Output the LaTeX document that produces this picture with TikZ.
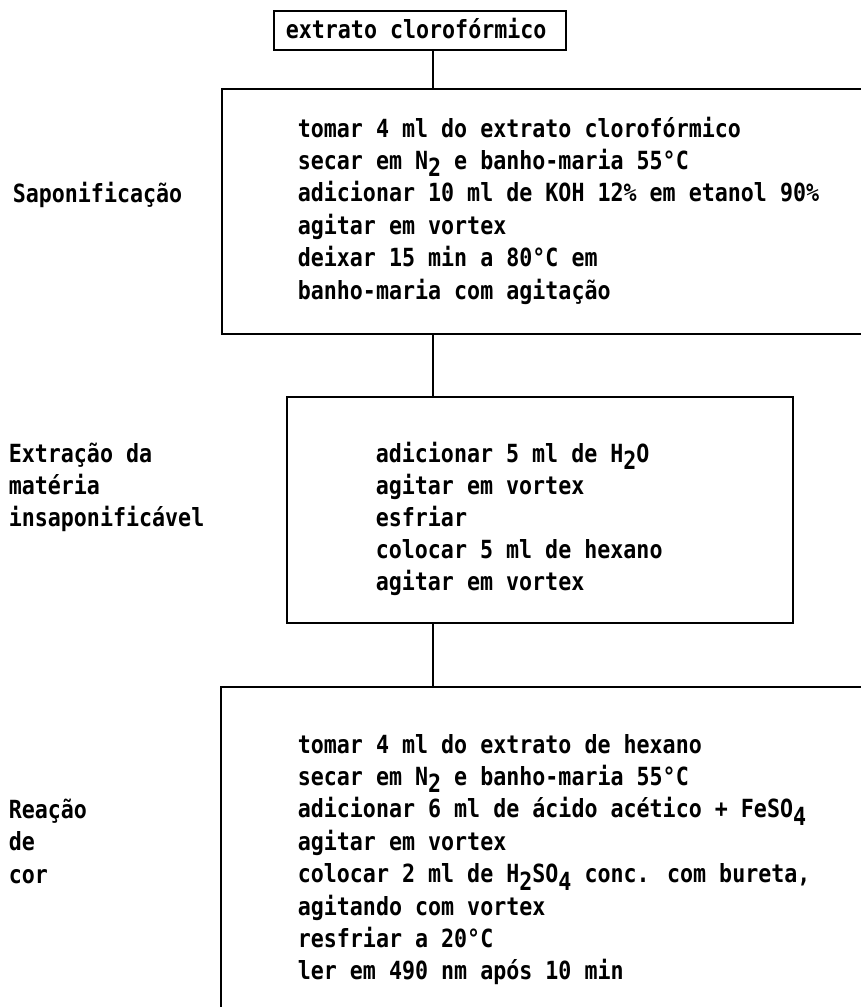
\documentclass[tikz,border=0pt]{standalone}
\usepackage{fontspec}
\newfontfamily\ptr{DejaVu Sans Mono}[FakeStretch=0.866]
\newcommand\subs[1]{\raisebox{-0.3em}{#1}}
\begin{document}
\begin{tikzpicture}[x=1pt,y=-1pt,line width=1.6pt,
  txt/.style={anchor=base west,inner sep=0pt,font=\ptr\bfseries\fontsize{25}{28}\selectfont},
  box/.style={draw,rectangle,inner sep=0pt,anchor=north west}]
\useasboundingbox (0,0) rectangle (861,1007);
\clip (0,0) rectangle (861,1007);
% boxes
\node[box,minimum width=292pt,minimum height=39pt] (b1) at (273,10) {};
\node[box,minimum width=680pt,minimum height=245pt] (b2) at (221,88) {};
\node[box,minimum width=506pt,minimum height=226pt] (b3) at (286,396) {};
\node[box,minimum width=680pt,minimum height=360pt] (b4) at (220,686) {};
% connectors
\coordinate (cx) at (433,0);
\draw (b1.south -| cx) -- (b2.north -| cx);
\draw (b2.south -| cx) -- (b3.north -| cx);
\draw (b3.south -| cx) -- (b4.north -| cx);
% texts
\node[txt] (t0) at (285,38) {extrato clorofórmico};
\foreach \t [count=\i] in {tomar 4 ml do extrato clorofórmico,
  secar em N\subs{2} e banho-maria 55°C,
  adicionar 10 ml de KOH 12\% em etanol 90\%,
  agitar em vortex,
  deixar 15 min a 80°C em,
  banho-maria com agitação}
  \node[txt,name=s\i] at (297,{137+32.4*(\i-1)}) {\t};
\foreach \t [count=\i] in {adicionar 5 ml de H\subs{2}O,
  agitar em vortex,
  esfriar,
  colocar 5 ml de hexano,
  agitar em vortex}
  \node[txt,name=e\i] at (375,{462+32.2*(\i-1)}) {\t};
\foreach \t [count=\i] in {tomar 4 ml do extrato de hexano,
  secar em N\subs{2} e banho-maria 55°C,
  adicionar 6 ml de ácido acético + FeSO\subs{4},
  agitar em vortex,
  {colocar 2 ml de H\subs{2}SO\subs{4} conc. com bureta,},
  agitando com vortex,
  resfriar a 20°C,
  ler em 490 nm após 10 min}
  \node[txt,name=r\i] at (297,{753+32.4*(\i-1)}) {\t};
% side labels
\node[txt] (l1) at (12,202) {Saponificação};
\node[txt] (l2) at (8,462) {Extração da};
\node[txt] (l3) at (8,494) {matéria};
\node[txt] (l4) at (8,526) {insaponificável};
\node[txt] (l5) at (8,818) {Reação};
\node[txt] (l6) at (8,850) {de};
\node[txt] (l7) at (8,883) {cor};
\end{tikzpicture}
\end{document}
